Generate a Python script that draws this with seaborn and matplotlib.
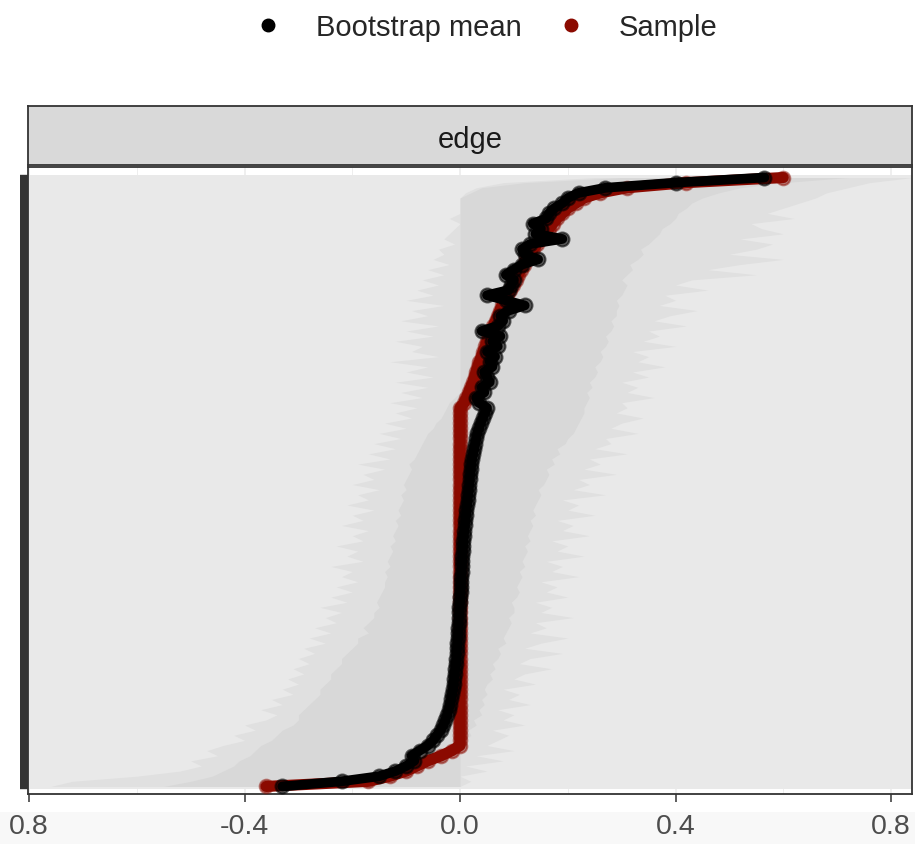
import numpy as np
import pandas as pd
import matplotlib
matplotlib.use("Agg")
import matplotlib.pyplot as plt
from matplotlib.lines import Line2D
from matplotlib.patches import Rectangle
import seaborn as sns

# ---------------- data (rows ordered from bottom to top) ----------------
sample = [
    -0.36, -0.17, -0.13, -0.10, -0.08, -0.06, -0.035, -0.015, 0.0, 0.0,
    0.0, 0.0, 0.0, 0.0, 0.0, 0.0, 0.0, 0.0, 0.0, 0.0,
    0.0, 0.0, 0.0, 0.0, 0.0, 0.0, 0.0, 0.0, 0.0, 0.0,
    0.0, 0.0, 0.0, 0.0, 0.0, 0.0, 0.0, 0.0, 0.0, 0.0,
    0.0, 0.0, 0.0, 0.0, 0.0, 0.0, 0.0, 0.0, 0.0, 0.0,
    0.0, 0.0, 0.0, 0.0, 0.0, 0.0, 0.0, 0.0, 0.0, 0.0,
    0.0, 0.0, 0.0, 0.0, 0.0, 0.0, 0.0, 0.0, 0.0, 0.0,
    0.0, 0.0, 0.0, 0.0, 0.0, 0.008, 0.012, 0.016, 0.02, 0.024,
    0.027, 0.03, 0.033, 0.036, 0.04, 0.043, 0.047, 0.05, 0.054, 0.058,
    0.062, 0.066, 0.07, 0.074, 0.078, 0.083, 0.088, 0.093, 0.098, 0.103,
    0.108, 0.113, 0.118, 0.123, 0.13, 0.136, 0.143, 0.15, 0.157, 0.165,
    0.172, 0.18, 0.19, 0.20, 0.215, 0.23, 0.26, 0.31, 0.42, 0.60,
]

boot_mean = [
    -0.33, -0.22, -0.15, -0.12, -0.10, -0.085, -0.09, -0.075, -0.06, -0.05,
    -0.043, -0.036, -0.031, -0.027, -0.024, -0.021, -0.019, -0.017, -0.015, -0.013,
    -0.012, -0.011, -0.010, -0.009, -0.008, -0.007, -0.0065, -0.006, -0.005, -0.004,
    -0.0035, -0.003, -0.0025, -0.002, -0.0015, -0.001, 0.0, 0.0005, 0.001, 0.0015,
    0.002, 0.0025, 0.003, 0.0035, 0.004, 0.0045, 0.005, 0.0055, 0.006, 0.007,
    0.008, 0.009, 0.010, 0.011, 0.012, 0.013, 0.014, 0.015, 0.016, 0.017,
    0.018, 0.019, 0.020, 0.021, 0.022, 0.024, 0.026, 0.028, 0.030, 0.032,
    0.035, 0.038, 0.042, 0.046, 0.05, 0.035, 0.03, 0.045, 0.04, 0.055,
    0.05, 0.045, 0.06, 0.055, 0.065, 0.05, 0.07, 0.06, 0.075, 0.04,
    0.07, 0.08, 0.075, 0.09, 0.12, 0.085, 0.05, 0.09, 0.095, 0.10,
    0.085, 0.10, 0.115, 0.145, 0.12, 0.115, 0.13, 0.19, 0.14, 0.15,
    0.135, 0.16, 0.165, 0.175, 0.19, 0.20, 0.22, 0.27, 0.40, 0.565,
]

# inner (darker) interval
ci_inner_low = [
    -0.55, -0.5, -0.46, -0.44, -0.42, -0.41, -0.39, -0.38, -0.37, -0.35,
    -0.34, -0.33, -0.31, -0.3, -0.3, -0.29, -0.28, -0.27, -0.26, -0.26,
    -0.25, -0.24, -0.24, -0.23, -0.22, -0.22, -0.21, -0.2, -0.19, -0.19,
    -0.17, -0.18, -0.17, -0.16, -0.16, -0.15, -0.155, -0.15, -0.145, -0.14,
    -0.14, -0.135, -0.14, -0.13, -0.135, -0.13, -0.125, -0.13, -0.12, -0.125,
    -0.12, -0.115, -0.12, -0.11, -0.115, -0.11, -0.105, -0.11, -0.1, -0.105,
    -0.1, -0.095, -0.09, -0.095, -0.085, -0.08, -0.075, -0.07, -0.065, -0.06,
    -0.05, -0.045, -0.035, -0.03, -0.025, -0.02, -0.01, 0.0, 0.0, 0.0,
    0.0, 0.0, 0.0, 0.0, 0.0, 0.0, 0.0, 0.0, 0.0, 0.0,
    0.0, 0.0, 0.0, 0.0, 0.0, 0.0, 0.0, 0.0, 0.0, 0.0,
    0.0, 0.0, 0.0, 0.0, 0.0, 0.0, 0.0, 0.0, 0.0, 0.0,
    0.0, 0.0, 0.0, 0.0, 0.0, 0.0, 0.02, 0.04, 0.12, 0.3,
]
ci_inner_high = [
    0.0, 0.0, 0.0, 0.0, 0.0, 0.0, 0.0, 0.0, 0.0, 0.01,
    0.02, 0.015, 0.03, 0.025, 0.04, 0.035, 0.045, 0.04, 0.05, 0.045,
    0.05, 0.06, 0.055, 0.065, 0.06, 0.07, 0.075, 0.07, 0.085, 0.08,
    0.085, 0.09, 0.095, 0.09, 0.1, 0.1, 0.095, 0.105, 0.11, 0.105,
    0.11, 0.115, 0.11, 0.12, 0.115, 0.12, 0.125, 0.12, 0.13, 0.125,
    0.13, 0.135, 0.13, 0.14, 0.135, 0.14, 0.145, 0.15, 0.145, 0.155,
    0.16, 0.165, 0.16, 0.175, 0.17, 0.185, 0.18, 0.195, 0.2, 0.21,
    0.215, 0.22, 0.225, 0.23, 0.23, 0.235, 0.24, 0.235, 0.245, 0.24,
    0.25, 0.255, 0.25, 0.26, 0.265, 0.26, 0.27, 0.275, 0.27, 0.28,
    0.285, 0.28, 0.29, 0.29, 0.295, 0.29, 0.3, 0.305, 0.31, 0.3,
    0.31, 0.32, 0.315, 0.33, 0.34, 0.335, 0.35, 0.36, 0.37, 0.375,
    0.39, 0.4, 0.405, 0.42, 0.43, 0.45, 0.48, 0.52, 0.6, 0.72,
]

# outer (lighter, spiky) interval
ci_outer_low = [
    -0.76, -0.72, -0.6, -0.52, -0.48, -0.5, -0.45, -0.47, -0.44, -0.4,
    -0.42, -0.38, -0.4, -0.36, -0.34, -0.37, -0.33, -0.35, -0.31, -0.33,
    -0.3, -0.32, -0.29, -0.31, -0.28, -0.3, -0.27, -0.29, -0.25, -0.28,
    -0.24, -0.27, -0.23, -0.25, -0.22, -0.26, -0.21, -0.24, -0.2, -0.23,
    -0.19, -0.22, -0.2, -0.24, -0.18, -0.21, -0.19, -0.23, -0.18, -0.2,
    -0.17, -0.22, -0.18, -0.2, -0.16, -0.21, -0.17, -0.19, -0.15, -0.2,
    -0.16, -0.18, -0.14, -0.19, -0.13, -0.17, -0.12, -0.16, -0.11, -0.15,
    -0.1, -0.14, -0.09, -0.12, -0.08, -0.13, -0.07, -0.11, -0.06, -0.12,
    -0.05, -0.1, -0.06, -0.13, -0.04, -0.09, -0.07, -0.12, -0.05, -0.1,
    -0.04, -0.11, -0.06, -0.09, -0.03, -0.1, -0.05, -0.08, -0.04, -0.07,
    -0.03, -0.06, -0.02, -0.05, -0.03, -0.04, -0.01, -0.03, -0.02, -0.01,
    0.0, -0.02, 0.0, 0.0, 0.0, 0.0, 0.01, 0.03, 0.08, 0.25,
]
ci_outer_high = [
    0.0, 0.02, 0.0, 0.05, 0.01, 0.08, 0.03, 0.1, 0.05, 0.07,
    0.09, 0.06, 0.12, 0.08, 0.1, 0.07, 0.13, 0.09, 0.11, 0.08,
    0.14, 0.1, 0.12, 0.17, 0.11, 0.13, 0.19, 0.12, 0.15, 0.2,
    0.13, 0.16, 0.14, 0.21, 0.15, 0.17, 0.14, 0.2, 0.16, 0.18,
    0.15, 0.22, 0.17, 0.19, 0.16, 0.23, 0.18, 0.2, 0.17, 0.24,
    0.19, 0.21, 0.18, 0.25, 0.2, 0.22, 0.19, 0.27, 0.21, 0.24,
    0.22, 0.29, 0.23, 0.26, 0.24, 0.31, 0.25, 0.28, 0.27, 0.33,
    0.28, 0.3, 0.34, 0.29, 0.31, 0.3, 0.36, 0.31, 0.33, 0.3,
    0.35, 0.32, 0.38, 0.33, 0.35, 0.32, 0.4, 0.34, 0.37, 0.35,
    0.42, 0.36, 0.39, 0.44, 0.37, 0.4, 0.38, 0.46, 0.4, 0.43,
    0.55, 0.46, 0.52, 0.6, 0.5, 0.55, 0.58, 0.52, 0.6, 0.56,
    0.54, 0.62, 0.57, 0.6, 0.63, 0.66, 0.68, 0.72, 0.76, 0.84,
]

x_ticks = [-0.8, -0.4, 0.0, 0.4, 0.8]
x_tick_labels = ["0.8", "-0.4", "0.0", "0.4", "0.8"]
x_minor = [-0.6, -0.2, 0.2, 0.6]
facet_label = "edge"
legend_labels = ["Bootstrap mean", "Sample"]

# ---------------- styling ----------------
sns.set_theme(style="white")
plt.rcParams["font.family"] = ["Liberation Sans", "DejaVu Sans"]

RED = "#8B0A00"
BAND_BG = "#E9E9E9"
BAND_OUT = "#E0E0E0"
BAND_IN = "#D8D8D8"
DARK = "#333333"

n = len(sample)
rank = np.arange(n)
df = pd.DataFrame({
    "rank": rank,
    "sample": sample,
    "boot": boot_mean,
    "lo_in": ci_inner_low,
    "hi_in": ci_inner_high,
    "lo_out": ci_outer_low,
    "hi_out": ci_outer_high,
})

W, H = 915, 845
fig = plt.figure(figsize=(W / 100, H / 100), dpi=100)
fig.patch.set_facecolor("white")
fig.patches.append(Rectangle((0, 0), 1, 32 / H, transform=fig.transFigure,
                             facecolor="#F8F8F8", edgecolor="none", zorder=-5))

ax = fig.add_axes([28 / W, 1 - 795 / H, 884 / W, 627 / H])
ax.set_facecolor("white")

# gridlines
ax.set_xticks(x_ticks)
ax.set_xticks(x_minor, minor=True)
ax.grid(True, axis="x", which="major", color="#EBEBEB", lw=1.1, zorder=0)
ax.grid(True, axis="x", which="minor", color="#EBEBEB", lw=0.6, zorder=0)
ax.set_axisbelow(True)

# bands
ax.axhspan(rank[0] - 0.5, rank[-1] + 0.5, color=BAND_BG, lw=0, zorder=1)
ax.fill_betweenx(df["rank"], df["lo_out"], df["hi_out"], color=BAND_OUT, lw=0, zorder=2)
ax.fill_betweenx(df["rank"], df["lo_in"], df["hi_in"], color=BAND_IN, lw=0, zorder=3)

# sample (red)
sns.lineplot(data=df, x="sample", y="rank", sort=False, estimator=None, orient="y",
             color=RED, lw=8, ax=ax, zorder=4, legend=False)
sns.scatterplot(data=df, x="sample", y="rank", color=RED, alpha=0.5, s=95,
                edgecolor=RED, linewidth=1.5, ax=ax, zorder=5, legend=False)

# bootstrap mean (black)
sns.lineplot(data=df, x="boot", y="rank", sort=False, estimator=None, orient="y",
             color="black", lw=7, ax=ax, zorder=6, legend=False)
sns.scatterplot(data=df, x="boot", y="rank", color="black", alpha=0.6, s=100,
                edgecolor="black", linewidth=1.5, ax=ax, zorder=7, legend=False)

ax.set_xlim(-0.802, 0.839)
ax.set_ylim(rank[0] - 1.477, rank[-1] + 2.06)

ax.set_xticklabels(x_tick_labels)
ax.set_yticks(rank)
ax.set_yticklabels([])
ax.tick_params(axis="x", which="major", length=5.5, width=1.1, color=DARK,
               labelsize=20.5, labelcolor="#4D4D4D", pad=8, bottom=True)
ax.tick_params(axis="x", which="minor", length=0)
ax.tick_params(axis="y", length=6, width=4.6, color=DARK, left=True)
ax.set_xlabel("")
ax.set_ylabel("")
for sp in ax.spines.values():
    sp.set_visible(True)
    sp.set_color(DARK)
    sp.set_linewidth(1.3)

# facet strip
sax = fig.add_axes([28 / W, 1 - 166 / H, 884 / W, 59 / H])
sax.set_facecolor("#D9D9D9")
sax.set_xticks([])
sax.set_yticks([])
for sp in sax.spines.values():
    sp.set_visible(True)
    sp.set_color(DARK)
    sp.set_linewidth(1.3)
sax.text(0.5, 0.44, facet_label, ha="center", va="center", fontsize=21,
         color="#1A1A1A", transform=sax.transAxes)

# legend
handles = [
    Line2D([], [], ls="none", marker="o", color="black", markersize=9),
    Line2D([], [], ls="none", marker="o", color=RED, markersize=9),
]
fig.legend(handles, legend_labels, loc="center left",
           bbox_to_anchor=(253 / W, 1 - 28 / H), ncol=2, frameon=False,
           fontsize=21, handlelength=1.0, handletextpad=1.15,
           columnspacing=1.2, borderpad=0, borderaxespad=0)

fig.savefig("out.png", dpi=100)
